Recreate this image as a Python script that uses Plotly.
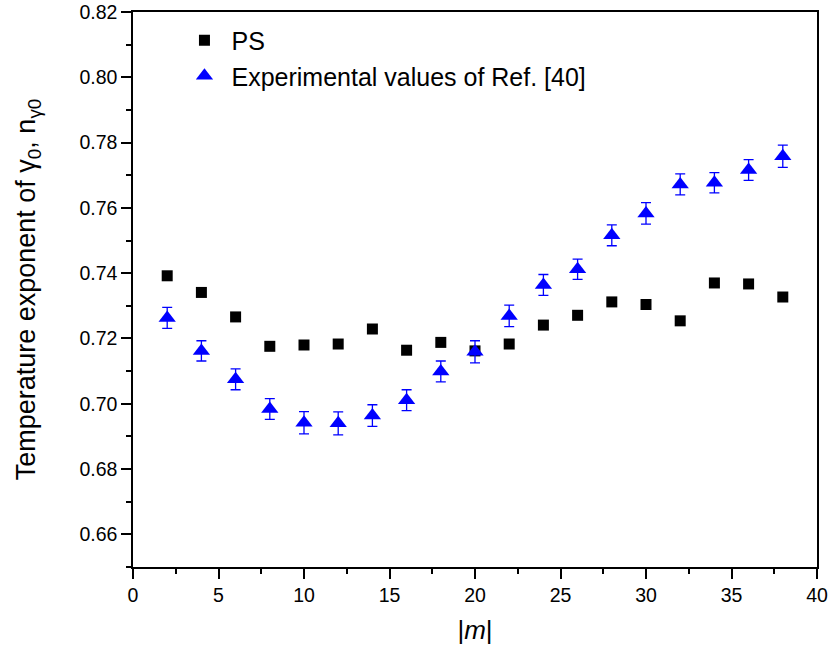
import plotly.graph_objects as go

# |m| values
m_abs = [2, 4, 6, 8, 10, 12, 14, 16, 18, 20, 22, 24, 26, 28, 30, 32, 34, 36, 38]

# PS results
ps_values = [0.7392, 0.7341, 0.7266, 0.7176, 0.7180, 0.7183, 0.7229, 0.7164, 0.7188, 0.7162,
             0.7183, 0.7241, 0.7271, 0.7312, 0.7304, 0.7254, 0.7370, 0.7367, 0.7327]

# Experimental values of Ref. [40] with uncertainties
exp_values = [0.7263, 0.7162, 0.7075, 0.6984, 0.6942, 0.6940, 0.6964, 0.7011, 0.7099, 0.7159,
              0.7269, 0.7364, 0.7412, 0.7516, 0.7583, 0.7672, 0.7677, 0.7716, 0.7758]
exp_errors = [0.0032, 0.0031, 0.0032, 0.0032, 0.0034, 0.0035, 0.0033, 0.0032, 0.0032, 0.0034,
              0.0033, 0.0032, 0.0031, 0.0032, 0.0033, 0.0032, 0.0031, 0.0032, 0.0034]

x_ticks = [0, 5, 10, 15, 20, 25, 30, 35, 40]
y_ticks = [0.66, 0.68, 0.70, 0.72, 0.74, 0.76, 0.78, 0.80, 0.82]
y_minor = [0.65, 0.67, 0.69, 0.71, 0.73, 0.75, 0.77, 0.79, 0.81]

FONT = "Arial, Liberation Sans, sans-serif"

fig = go.Figure()
fig.add_trace(go.Scatter(
    x=m_abs, y=ps_values, mode="markers", name="PS",
    marker=dict(symbol="square", size=11, color="black"),
))
fig.add_trace(go.Scatter(
    x=m_abs, y=exp_values, mode="markers", name="Experimental values of Ref. [40]",
    marker=dict(symbol="triangle-up", size=15, color="#0000ff"),
    error_y=dict(type="data", array=exp_errors, visible=True,
                 color="#0000ff", thickness=1.3, width=5),
))

axis_common = dict(
    showgrid=False, zeroline=False, showline=True, linecolor="black", linewidth=1.5,
    mirror=True, ticks="outside", ticklen=10, tickwidth=1.5, tickcolor="black",
    tickfont=dict(family=FONT, size=19.5, color="black"),
    automargin=False,
)

fig.update_layout(
    width=829, height=648,
    margin=dict(l=133, r=12, t=12, b=81, autoexpand=False),
    paper_bgcolor="white", plot_bgcolor="white",
    showlegend=True,
    legend=dict(x=0.065, y=0.99, xanchor="left", yanchor="top",
                bgcolor="rgba(0,0,0,0)", itemwidth=44,
                font=dict(family=FONT, size=25, color="black")),
    xaxis=dict(
        range=[0, 40], tickvals=x_ticks,
        minor=dict(ticks="outside", ticklen=5, tickwidth=1.5, tickcolor="black", dtick=2.5),
        title=dict(text="|<i>m</i>|", font=dict(family=FONT, size=26, color="black"), standoff=16),
        **axis_common,
    ),
    yaxis=dict(
        range=[0.65, 0.82], tickvals=y_ticks, tickformat=".2f",
        minor=dict(ticks="outside", ticklen=5, tickwidth=1.5, tickcolor="black",
                   tickvals=y_minor),
        title=dict(text="Temperature exponent of γ<sub>0</sub>, n<sub>γ0</sub>",
                   font=dict(family=FONT, size=27, color="black"), standoff=36),
        **axis_common,
    ),
)

fig.write_html("out.html")
